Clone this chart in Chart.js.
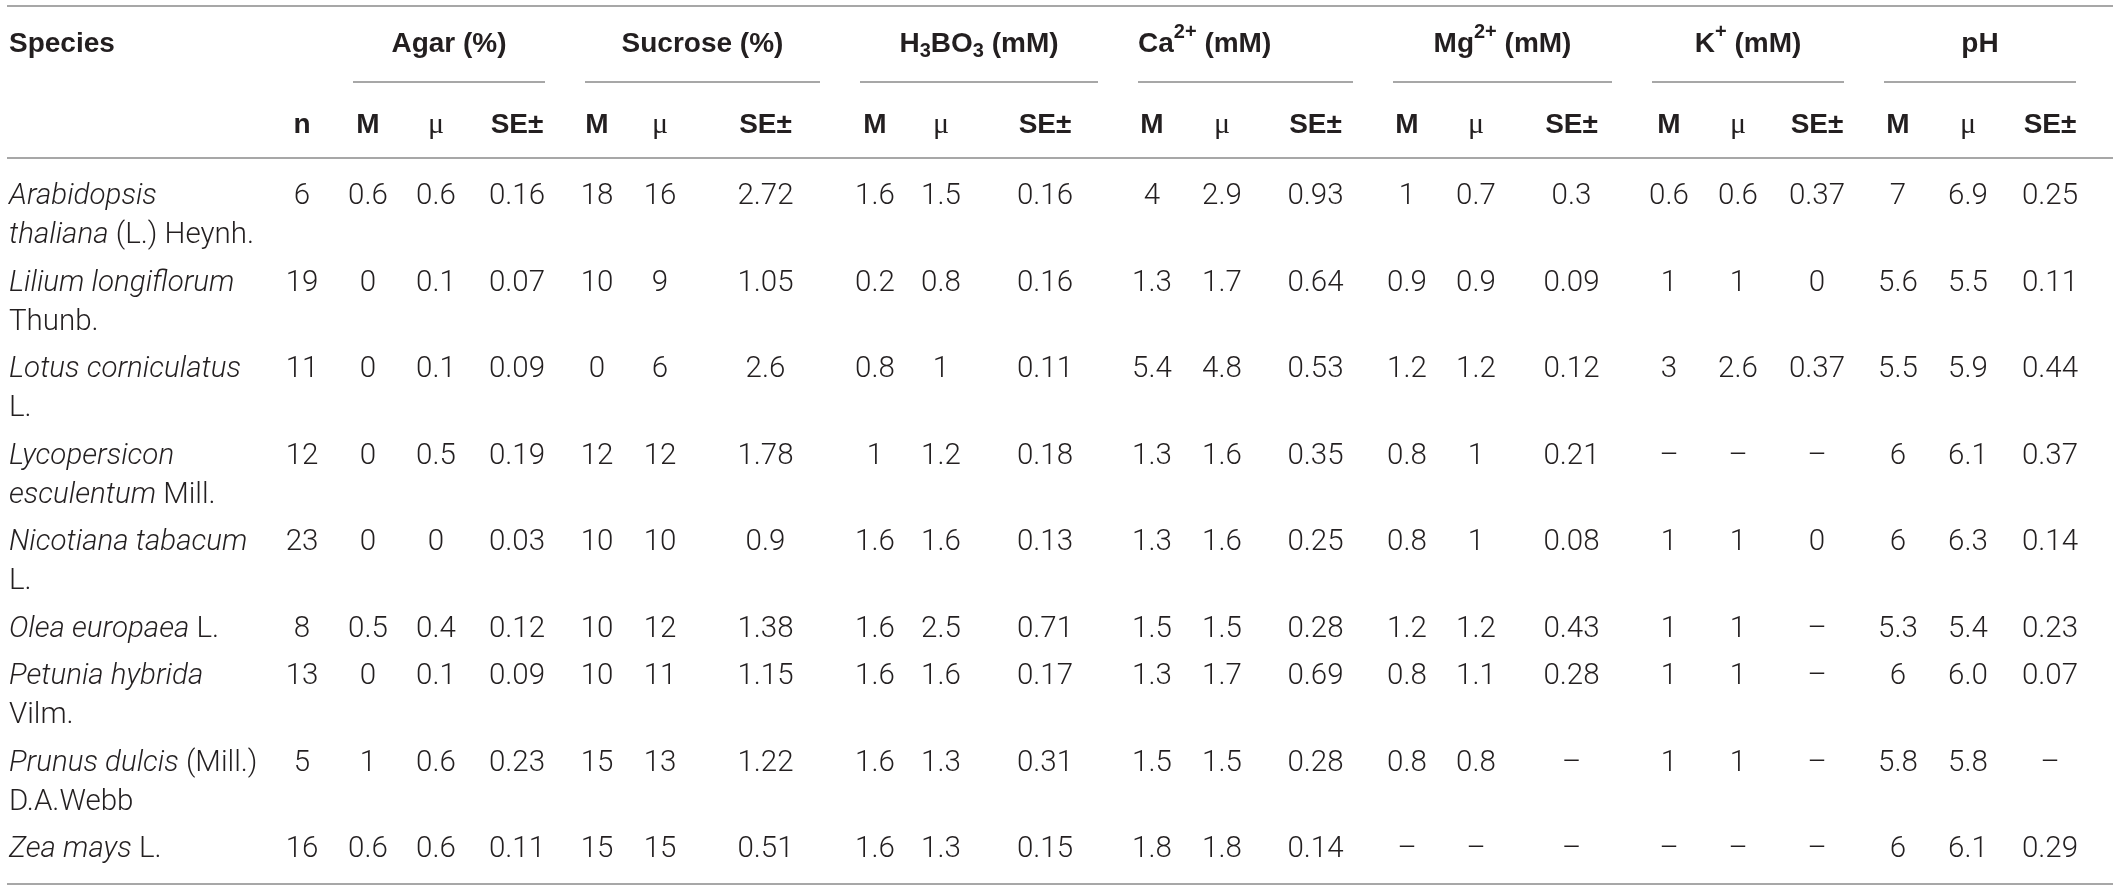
<!DOCTYPE html>
<html>
<head>
<meta charset="utf-8">
<script src="https://cdn.jsdelivr.net/npm/chart.js@4.4.1/dist/chart.umd.min.js"></script>
<style>
  html, body { margin: 0; padding: 0; background: #fff; }
  #wrap { width: 2120px; height: 890px; }
</style>
</head>
<body>
<div id="wrap"><canvas id="tableChart"></canvas></div>
<script>
// species names: _italic_ parts, '/' marks the line break
var species = [
  '_Arabidopsis_/_thaliana_ (L.) Heynh.',
  '_Lilium longiflorum_/Thunb.',
  '_Lotus corniculatus_/L.',
  '_Lycopersicon_/_esculentum_ Mill.',
  '_Nicotiana tabacum_/L.',
  '_Olea europaea_ L.',
  '_Petunia hybrida_/Vilm.',
  '_Prunus dulcis_ (Mill.)/D.A.Webb',
  '_Zea mays_ L.'
];
var nValues = ['6', '19', '11', '12', '23', '8', '13', '5', '16'];

// null = no value (dash)
var agarM  = ['0.6', '0', '0', '0', '0', '0.5', '0', '1', '0.6'];
var agarMu = ['0.6', '0.1', '0.1', '0.5', '0', '0.4', '0.1', '0.6', '0.6'];
var agarSE = ['0.16', '0.07', '0.09', '0.19', '0.03', '0.12', '0.09', '0.23', '0.11'];

var sucroseM  = ['18', '10', '0', '12', '10', '10', '10', '15', '15'];
var sucroseMu = ['16', '9', '6', '12', '10', '12', '11', '13', '15'];
var sucroseSE = ['2.72', '1.05', '2.6', '1.78', '0.9', '1.38', '1.15', '1.22', '0.51'];

var boricM  = ['1.6', '0.2', '0.8', '1', '1.6', '1.6', '1.6', '1.6', '1.6'];
var boricMu = ['1.5', '0.8', '1', '1.2', '1.6', '2.5', '1.6', '1.3', '1.3'];
var boricSE = ['0.16', '0.16', '0.11', '0.18', '0.13', '0.71', '0.17', '0.31', '0.15'];

var calciumM  = ['4', '1.3', '5.4', '1.3', '1.3', '1.5', '1.3', '1.5', '1.8'];
var calciumMu = ['2.9', '1.7', '4.8', '1.6', '1.6', '1.5', '1.7', '1.5', '1.8'];
var calciumSE = ['0.93', '0.64', '0.53', '0.35', '0.25', '0.28', '0.69', '0.28', '0.14'];

var magnesiumM  = ['1', '0.9', '1.2', '0.8', '0.8', '1.2', '0.8', '0.8', null];
var magnesiumMu = ['0.7', '0.9', '1.2', '1', '1', '1.2', '1.1', '0.8', null];
var magnesiumSE = ['0.3', '0.09', '0.12', '0.21', '0.08', '0.43', '0.28', null, null];

var potassiumM  = ['0.6', '1', '3', null, '1', '1', '1', '1', null];
var potassiumMu = ['0.6', '1', '2.6', null, '1', '1', '1', '1', null];
var potassiumSE = ['0.37', '0', '0.37', null, '0', null, null, null, null];

var phM  = ['7', '5.6', '5.5', '6', '6', '5.3', '6', '5.8', '6'];
var phMu = ['6.9', '5.5', '5.9', '6.1', '6.3', '5.4', '6.0', '5.8', '6.1'];
var phSE = ['0.25', '0.11', '0.44', '0.37', '0.14', '0.23', '0.07', null, '0.29'];

// {x} = subscript, ^{x} = superscript
var groupTitles = ['Agar (%)', 'Sucrose (%)', 'H{3}BO{3} (mM)', 'Ca^{2+} (mM)', 'Mg^{2+} (mM)', 'K^{+} (mM)', 'pH'];
var statLabels = ['M', 'μ', 'SE±'];

var groups = [
  [agarM, agarMu, agarSE],
  [sucroseM, sucroseMu, sucroseSE],
  [boricM, boricMu, boricSE],
  [calciumM, calciumMu, calciumSE],
  [magnesiumM, magnesiumMu, magnesiumSE],
  [potassiumM, potassiumMu, potassiumSE],
  [phM, phMu, phSE]
];

// layout in table units (1 unit = 1 px of the 2120x890 page)
var L = {
  left: 7, right: 2113,
  colWidths: [264, 62, 70, 66, 96, 64, 62, 149, 70, 62, 146, 68, 72, 115, 68, 70, 121, 74, 64, 94, 68, 72, 92],
  speciesPad: 2,
  topLine: 6, titleBase: 52, groupLine: 82, statBase: 133, headLine: 158, bottomLine: 884,
  firstBase: 46, lineGap: 39, rowPad: 8.5, groupInset: 20,
  titleAlign: ['center', 'center', 'center', 'left', 'center', 'center', 'center'],
  ink: '#231f20', rule: '#8a8a8a'
};

var FONT_BOLD = 'bold 28px "Liberation Sans", Arial, sans-serif';
var FONT_SMALL = 'bold 20px "Liberation Sans", Arial, sans-serif';
var FONT_BODY = '300 29.5px Roboto, "Liberation Sans", sans-serif';
var FONT_ITALIC = 'italic 300 29.5px Roboto, "Liberation Sans", sans-serif';
var FONT_MU = '30px "Liberation Serif", serif';

var edges = [L.left];
L.colWidths.forEach(function (w, i) { edges.push(edges[i] + w); });
var centers = L.colWidths.map(function (w, i) { return edges[i] + w / 2; });

var rowBase = [];
var rowTop = L.headLine;
species.forEach(function (s) {
  rowBase.push(rowTop + L.firstBase);
  rowTop += s.split('/').length * L.lineGap + L.rowPad;
});

function parseSpecies(str) {
  return str.split('/').map(function (line) {
    return line.split('_').map(function (t, i) {
      return { text: t, font: i % 2 ? FONT_ITALIC : FONT_BODY };
    }).filter(function (r) { return r.text.length; });
  });
}

function parseTitle(str) {
  var runs = [], re = /(\^?)\{([^}]*)\}/g, last = 0, m;
  while ((m = re.exec(str))) {
    if (m.index > last) runs.push({ text: str.slice(last, m.index), font: FONT_BOLD });
    runs.push({ text: m[2], font: FONT_SMALL, dy: m[1] ? -14 : 5 });
    last = re.lastIndex;
  }
  if (last < str.length) runs.push({ text: str.slice(last), font: FONT_BOLD });
  return runs;
}

function drawRuns(ctx, runs, x, y, align) {
  var total = 0;
  runs.forEach(function (r) { ctx.font = r.font; r.w = ctx.measureText(r.text).width; total += r.w; });
  var cx = align === 'center' ? x - total / 2 : x;
  runs.forEach(function (r) {
    ctx.font = r.font;
    ctx.fillText(r.text, cx, y + (r.dy || 0));
    cx += r.w;
  });
}

// one dataset per table column, the points are the cell anchors
var datasets = [{
  kind: 'species', cells: species,
  data: species.map(function (s, i) { return { x: edges[0] + L.speciesPad, y: rowBase[i] }; })
}, {
  kind: 'value', cells: nValues,
  data: nValues.map(function (v, i) { return { x: centers[1], y: rowBase[i] }; })
}];
groups.forEach(function (g, gi) {
  g.forEach(function (col, k) {
    datasets.push({
      kind: 'value', cells: col,
      data: col.map(function (v, i) { return { x: centers[2 + gi * 3 + k], y: rowBase[i] }; })
    });
  });
});
datasets.forEach(function (d) { d.pointRadius = 0; d.pointHoverRadius = 0; });

var tablePlugin = {
  id: 'tablePlugin',
  afterDatasetsDraw: function (chart) {
    var ctx = chart.ctx, sx = chart.scales.x, sy = chart.scales.y;
    ctx.save();
    ctx.textAlign = 'left';
    ctx.textBaseline = 'alphabetic';
    ctx.fillStyle = L.ink;

    // rules
    ctx.strokeStyle = L.rule;
    ctx.lineWidth = 1.4;
    function hline(x1, x2, y) {
      ctx.beginPath();
      ctx.moveTo(sx.getPixelForValue(x1), sy.getPixelForValue(y));
      ctx.lineTo(sx.getPixelForValue(x2), sy.getPixelForValue(y));
      ctx.stroke();
    }
    hline(L.left, L.right, L.topLine);
    hline(L.left, L.right, L.headLine);
    hline(L.left, L.right, L.bottomLine);
    groups.forEach(function (g, gi) {
      hline(edges[2 + gi * 3] + L.groupInset, edges[5 + gi * 3] - L.groupInset, L.groupLine);
    });

    // header
    drawRuns(ctx, [{ text: 'Species', font: FONT_BOLD }],
      sx.getPixelForValue(edges[0] + L.speciesPad), sy.getPixelForValue(L.titleBase), 'left');
    groupTitles.forEach(function (t, gi) {
      var a = edges[2 + gi * 3] + L.groupInset, b = edges[5 + gi * 3] - L.groupInset;
      var align = L.titleAlign[gi];
      var x = align === 'center' ? (a + b) / 2 : a;
      drawRuns(ctx, parseTitle(t), sx.getPixelForValue(x), sy.getPixelForValue(L.titleBase), align);
    });
    drawRuns(ctx, [{ text: 'n', font: FONT_BOLD }],
      sx.getPixelForValue(centers[1]), sy.getPixelForValue(L.statBase), 'center');
    groups.forEach(function (g, gi) {
      statLabels.forEach(function (lab, k) {
        drawRuns(ctx, [{ text: lab, font: lab === 'μ' ? FONT_MU : FONT_BOLD }],
          sx.getPixelForValue(centers[2 + gi * 3 + k]), sy.getPixelForValue(L.statBase), 'center');
      });
    });

    // body cells
    chart.data.datasets.forEach(function (ds, di) {
      var meta = chart.getDatasetMeta(di);
      meta.data.forEach(function (pt, i) {
        if (ds.kind === 'species') {
          parseSpecies(ds.cells[i]).forEach(function (line, li) {
            drawRuns(ctx, line, pt.x, pt.y + li * L.lineGap, 'left');
          });
        } else {
          var v = ds.cells[i];
          drawRuns(ctx, [{ text: v === null ? '–' : v, font: FONT_BODY }], pt.x, pt.y, 'center');
        }
      });
    });
    ctx.restore();
  }
};

var chart = new Chart(document.getElementById('tableChart').getContext('2d'), {
  type: 'scatter',
  data: { datasets: datasets },
  options: {
    responsive: true,
    maintainAspectRatio: false,
    animation: false,
    events: [],
    layout: { padding: 0 },
    scales: {
      x: { type: 'linear', display: false, min: 0, max: 2120 },
      y: { type: 'linear', display: false, min: 0, max: 890, reverse: true }
    },
    plugins: { legend: { display: false }, tooltip: { enabled: false } }
  },
  plugins: [tablePlugin]
});
</script>
</body>
</html>
